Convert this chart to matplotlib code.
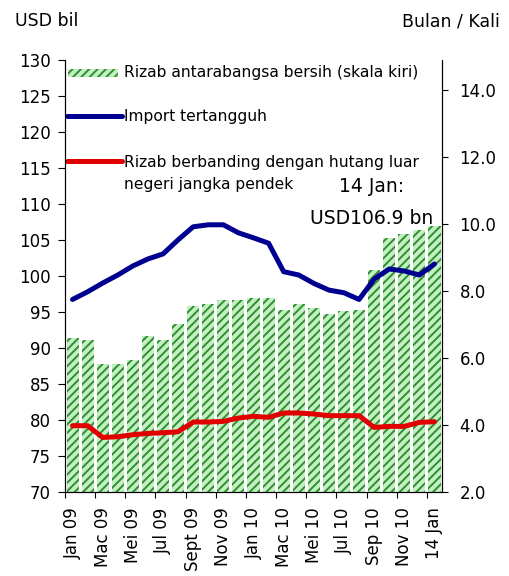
import matplotlib
matplotlib.use("Agg")
import matplotlib.pyplot as plt
from matplotlib.patches import Rectangle
from matplotlib.lines import Line2D
import numpy as np

# =============================================================================
# Data
# =============================================================================
tick_labels = ['Jan 09', 'Mac 09', 'Mei 09', 'Jul 09', 'Sept 09', 'Nov 09',
               'Jan 10', 'Mac 10', 'Mei 10', 'Jul 10', 'Sep 10', 'Nov 10',
               '14 Jan']

# Rizab antarabangsa bersih (USD bil), Jan 09 .. Dis 10, 14 Jan 11
rizab = [91.4, 91.1, 87.8, 87.8, 88.3, 91.7, 91.1, 93.3, 95.9, 96.1,
         96.7, 96.7, 97.0, 97.0, 95.3, 96.1, 95.6, 94.7, 95.1, 95.3,
         100.9, 105.3, 105.9, 106.4, 106.9]

# Import tertangguh (bulan)
import_bulan = [7.75, 7.98, 8.24, 8.48, 8.75, 8.96, 9.11, 9.53, 9.92, 9.98,
                9.98, 9.74, 9.59, 9.43, 8.58, 8.48, 8.23, 8.03, 7.95, 7.75,
                8.36, 8.66, 8.60, 8.48, 8.81]

# Rizab berbanding hutang luar negeri jangka pendek (kali)
rizab_hutang = [3.98, 3.98, 3.63, 3.65, 3.71, 3.75, 3.77, 3.80, 4.09, 4.09,
                4.11, 4.21, 4.26, 4.23, 4.36, 4.36, 4.33, 4.28, 4.28, 4.28,
                3.93, 3.96, 3.96, 4.08, 4.10]

# =============================================================================
# Style
# =============================================================================
plt.rcParams['font.family'] = ['DejaVu Sans']
plt.rcParams['hatch.color'] = '#2f8f2f'
plt.rcParams['hatch.linewidth'] = 1.4

warna_bar = '#c2f0c2'
warna_biru = '#000090'
warna_merah = '#e00000'

fig = plt.figure(figsize=(5.09, 5.76), dpi=100)
ax = fig.add_axes([0.1277, 0.1458, 0.7407, 0.75])
ax2 = ax.twinx()

x = np.arange(len(rizab))

# Bars (left axis)
ax.bar(x, rizab, width=0.8, color=warna_bar, hatch='////', linewidth=0)
ax.set_xlim(-0.5, len(rizab) - 0.5)
ax.set_ylim(70, 130)
ax.set_yticks(np.arange(70, 131, 5))

# Lines (right axis)
ax2.plot(x, import_bulan, color=warna_biru, lw=3.6, solid_capstyle='round')
ax2.plot(x, rizab_hutang, color=warna_merah, lw=3.6, solid_capstyle='round')
ax2.set_ylim(2, 14.9)
ax2.set_yticks(np.arange(2, 15, 2))
ax2.set_yticklabels([f"{v:.1f}" for v in np.arange(2, 15, 2)])

# x ticks: marks between groups, labels under every second bar
ax.set_xticks(np.arange(-0.5, len(rizab) - 1, 2))
ax.set_xticklabels([])
ax.set_xticks(np.arange(0, len(rizab), 2), minor=True)
ax.set_xticklabels(tick_labels, minor=True, rotation=90, fontsize=12)
ax.tick_params(axis='x', which='major', direction='out', length=4, width=0.8)
ax.tick_params(axis='x', which='minor', length=0, pad=11)
ax.tick_params(axis='y', direction='out', length=5, width=0.8, pad=5,
               labelsize=12)
ax2.tick_params(axis='y', direction='out', length=4.5, width=0.8, pad=8,
                labelsize=12)

for a in (ax, ax2):
    a.spines['top'].set_visible(False)
    for s in ('left', 'right', 'bottom'):
        a.spines[s].set_linewidth(0.8)

# Legend drawn by hand in axes coordinates
ax2.add_patch(Rectangle((0.008, 0.961), 0.133, 0.019, transform=ax2.transAxes,
                        facecolor=warna_bar, hatch='////', linewidth=0,
                        clip_on=False))
ax2.add_line(Line2D([0.005, 0.151], [0.871, 0.871], transform=ax2.transAxes,
                    color=warna_biru, lw=3.6, solid_capstyle='round'))
ax2.add_line(Line2D([0.005, 0.151], [0.766, 0.766], transform=ax2.transAxes,
                    color=warna_merah, lw=3.6, solid_capstyle='round'))
fs_leg = 11.2
ax2.text(0.157, 0.972, 'Rizab antarabangsa bersih (skala kiri)',
         transform=ax2.transAxes, fontsize=fs_leg, va='center', ha='left')
ax2.text(0.157, 0.870, 'Import tertangguh',
         transform=ax2.transAxes, fontsize=fs_leg, va='center', ha='left')
ax2.text(0.157, 0.762, 'Rizab berbanding dengan hutang luar',
         transform=ax2.transAxes, fontsize=fs_leg, va='center', ha='left')
ax2.text(0.157, 0.713, 'negeri jangka pendek',
         transform=ax2.transAxes, fontsize=fs_leg, va='center', ha='left')

# Annotation of latest value
ax2.text(0.812, 0.708, '14 Jan:', transform=ax2.transAxes, fontsize=13.5,
         ha='center', va='center')
ax2.text(0.812, 0.634, 'USD106.9 bn', transform=ax2.transAxes, fontsize=13.5,
         ha='center', va='center')

# Axis unit labels
fig.text(0.0295, 0.9635, 'USD bil', fontsize=12.5, ha='left', va='center')
fig.text(0.982, 0.9635, 'Bulan / Kali', fontsize=12.5, ha='right',
         va='center')

fig.savefig('out.png', dpi=100)
